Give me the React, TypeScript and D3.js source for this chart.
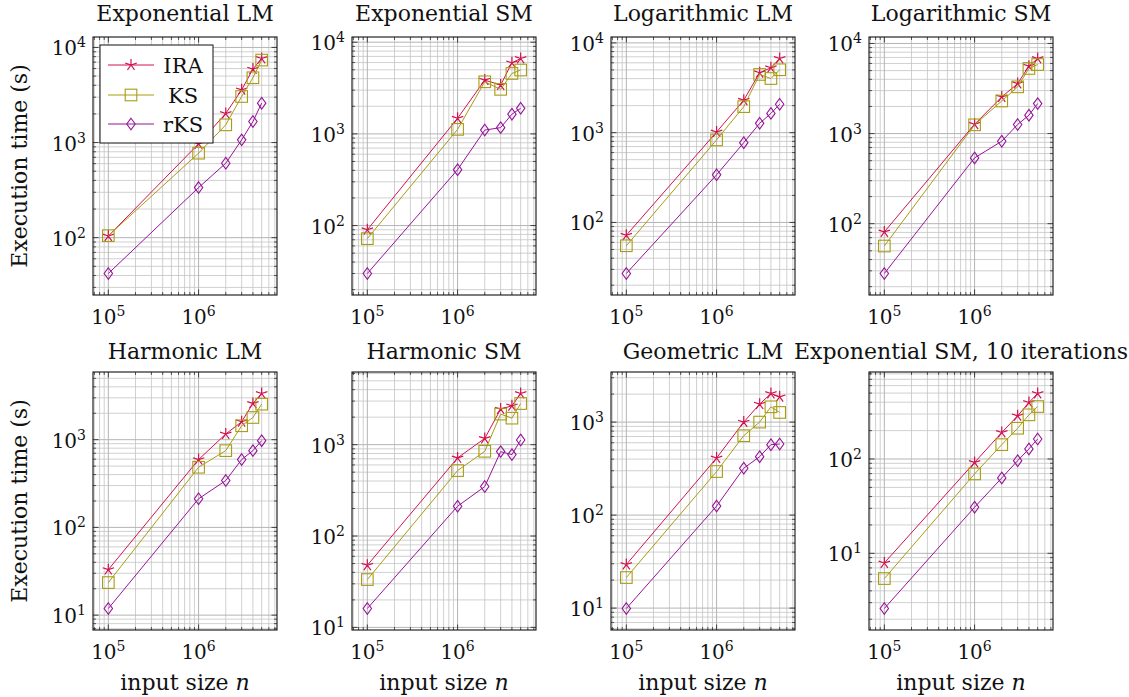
import React from 'react';
import * as d3 from 'd3';

// ---- data ----
const inputSizes = [1e5, 1e6, 2e6, 3e6, 4e6, 5e6];
const seriesNames = ['IRA', 'KS', 'rKS'];
const seriesColors = ['#d2124e', '#a89c10', '#97139a'];
const seriesMarks = ['star', 'square', 'diamond'];

const panelTitles = [
  'Exponential LM', 'Exponential SM', 'Logarithmic LM', 'Logarithmic SM',
  'Harmonic LM', 'Harmonic SM', 'Geometric LM', 'Exponential SM, 10 iterations',
];

const expLM_IRA = [104, 970, 2020, 3580, 5920, 7650];
const expLM_KS = [105, 773, 1535, 3050, 4800, 7360];
const expLM_rKS = [42, 336, 606, 1067, 1663, 2595];

const expSM_IRA = [90, 1480, 3860, 3410, 5960, 6640];
const expSM_KS = [72, 1120, 3700, 3060, 4560, 4970];
const expSM_rKS = [30, 407, 1100, 1170, 1640, 1900];

const logLM_IRA = [72, 1017, 2300, 4650, 5280, 6700];
const logLM_KS = [55, 830, 1950, 4450, 4010, 5020];
const logLM_rKS = [27, 339, 774, 1270, 1640, 2070];

const logSM_IRA = [81, 1270, 2550, 3590, 5600, 6810];
const logSM_KS = [56.5, 1250, 2300, 3300, 5280, 5840];
const logSM_rKS = [28, 537, 822, 1260, 1600, 2150];

const harLM_IRA = [33, 593, 1160, 1600, 2590, 3360];
const harLM_KS = [23.5, 485, 750, 1440, 1790, 2540];
const harLM_rKS = [11.9, 212, 342, 593, 750, 975];

const harSM_IRA = [47.9, 716, 1170, 2450, 2660, 3630];
const harSM_KS = [33.4, 520, 846, 2160, 1950, 2820];
const harSM_rKS = [16.1, 212, 348, 839, 778, 1125];

const geoLM_IRA = [29.4, 411, 1000, 1560, 2030, 1870];
const geoLM_KS = [21.3, 294, 714, 1000, 1460, 1270];
const geoLM_rKS = [9.9, 125, 319, 425, 572, 581];

const exp10_IRA = [7.9, 92, 191, 287, 397, 495];
const exp10_KS = [5.4, 69.5, 142, 212, 294, 360];
const exp10_rKS = [2.6, 30.8, 63, 96, 128, 163];

const panelSeries = [
  [expLM_IRA, expLM_KS, expLM_rKS],
  [expSM_IRA, expSM_KS, expSM_rKS],
  [logLM_IRA, logLM_KS, logLM_rKS],
  [logSM_IRA, logSM_KS, logSM_rKS],
  [harLM_IRA, harLM_KS, harLM_rKS],
  [harSM_IRA, harSM_KS, harSM_rKS],
  [geoLM_IRA, geoLM_KS, geoLM_rKS],
  [exp10_IRA, exp10_KS, exp10_rKS],
];

// ---- layout ----
const W = 1129;
const H = 697;
const colLefts = [93, 352, 611, 869];
const rowTops = [37, 372];
const titleGaps = [16, 13];
const PW = 184;
const PH = 258;
const FONT = "'DejaVu Serif', 'Liberation Serif', serif";
const GRID = '#c4c4c4';

function enlargedLogDomain(lo: number, hi: number): [number, number] {
  const a = Math.log10(lo);
  const b = Math.log10(hi);
  const e = (b - a) * 0.1;
  return [Math.pow(10, a - e), Math.pow(10, b + e)];
}

function Mark({ type, x, y, color }: { type: string; x: number; y: number; color: string }) {
  if (type === 'square') {
    const s = 5.8;
    return <rect x={x - s} y={y - s} width={2 * s} height={2 * s} fill="none" stroke={color} strokeWidth={1.1} />;
  }
  if (type === 'diamond') {
    const w = 4.2;
    const h = 5.8;
    return (
      <path d={`M${x},${y - h}L${x + w},${y}L${x},${y + h}L${x - w},${y}Z`} fill="none" stroke={color} strokeWidth={1.1} />
    );
  }
  const r = 6;
  const d = d3.range(5).map((i) => {
    const a = -Math.PI / 2 + (i * 2 * Math.PI) / 5;
    return `M${x},${y}L${x + r * Math.cos(a)},${y + r * Math.sin(a)}`;
  }).join('');
  return <path d={d} fill="none" stroke={color} strokeWidth={1.2} />;
}

function logTicks(domain: [number, number]) {
  const lo = Math.floor(Math.log10(domain[0]));
  const hi = Math.ceil(Math.log10(domain[1]));
  const major: number[] = [];
  const minor: number[] = [];
  for (let k = lo; k <= hi; k++) {
    const p = Math.pow(10, k);
    if (p >= domain[0] && p <= domain[1]) major.push(p);
    for (let m = 2; m <= 9; m++) {
      const v = m * p;
      if (v >= domain[0] && v <= domain[1]) minor.push(v);
    }
  }
  return { major, minor };
}

function Pow({ exp, x, y, anchor, size }: { exp: number; x: number; y: number; anchor: string; size: number }) {
  return (
    <text x={x} y={y} textAnchor={anchor as any} fontFamily={FONT} fontSize={size} fill="#111">
      10
      <tspan dy={-8} fontSize={size * 0.7}>{exp}</tspan>
    </text>
  );
}

function Panel({ idx }: { idx: number }) {
  const col = idx % 4;
  const row = Math.floor(idx / 4);
  const left = colLefts[col];
  const top = rowTops[row];
  const series = panelSeries[idx];
  const all = series.flat();
  const yDom = enlargedLogDomain(d3.min(all) as number, d3.max(all) as number);
  const xDom = enlargedLogDomain(inputSizes[0], inputSizes[inputSizes.length - 1]);
  const x = d3.scaleLog().domain(xDom).range([left, left + PW]);
  const y = d3.scaleLog().domain(yDom).range([top + PH, top]);
  const xt = logTicks(xDom);
  const yt = logTicks(yDom);
  const bottom = top + PH;
  const right = left + PW;
  const majLen = 5.5;
  const minLen = 3;
  const line = d3.line<number>().x((_, i) => x(inputSizes[i])).y((v) => y(v));

  return (
    <g>
      {/* grid */}
      {xt.minor.map((v, i) => (
        <line key={'gxm' + i} x1={x(v)} x2={x(v)} y1={top} y2={bottom} stroke={GRID} strokeWidth={0.8} />
      ))}
      {yt.minor.map((v, i) => (
        <line key={'gym' + i} x1={left} x2={right} y1={y(v)} y2={y(v)} stroke={GRID} strokeWidth={0.8} />
      ))}
      {xt.major.map((v, i) => (
        <line key={'gxM' + i} x1={x(v)} x2={x(v)} y1={top} y2={bottom} stroke="#b4b4b4" strokeWidth={1} />
      ))}
      {yt.major.map((v, i) => (
        <line key={'gyM' + i} x1={left} x2={right} y1={y(v)} y2={y(v)} stroke="#b4b4b4" strokeWidth={1} />
      ))}
      {/* ticks */}
      {xt.minor.map((v, i) => (
        <g key={'txm' + i} stroke="#333" strokeWidth={0.8}>
          <line x1={x(v)} x2={x(v)} y1={bottom} y2={bottom - minLen} />
          <line x1={x(v)} x2={x(v)} y1={top} y2={top + minLen} />
        </g>
      ))}
      {yt.minor.map((v, i) => (
        <g key={'tym' + i} stroke="#333" strokeWidth={0.8}>
          <line x1={left} x2={left + minLen} y1={y(v)} y2={y(v)} />
          <line x1={right} x2={right - minLen} y1={y(v)} y2={y(v)} />
        </g>
      ))}
      {xt.major.map((v, i) => (
        <g key={'txM' + i} stroke="#333" strokeWidth={0.9}>
          <line x1={x(v)} x2={x(v)} y1={bottom} y2={bottom - majLen} />
          <line x1={x(v)} x2={x(v)} y1={top} y2={top + majLen} />
        </g>
      ))}
      {yt.major.map((v, i) => (
        <g key={'tyM' + i} stroke="#333" strokeWidth={0.9}>
          <line x1={left} x2={left + majLen} y1={y(v)} y2={y(v)} />
          <line x1={right} x2={right - majLen} y1={y(v)} y2={y(v)} />
        </g>
      ))}
      {/* box */}
      <rect x={left} y={top} width={PW} height={PH} fill="none" stroke="#111" strokeWidth={1.1} />
      {/* data */}
      {series.map((vals, s) => (
        <g key={'s' + s}>
          <path d={line(vals) as string} fill="none" stroke={seriesColors[s]} strokeWidth={1} />
          {vals.map((v, i) => (
            <Mark key={i} type={seriesMarks[s]} x={x(inputSizes[i])} y={y(v)} color={seriesColors[s]} />
          ))}
        </g>
      ))}
      {/* tick labels */}
      {xt.major.map((v, i) => (
        <Pow key={'lx' + i} exp={Math.round(Math.log10(v))} x={x(v)} y={bottom + 29} anchor="middle" size={20} />
      ))}
      {yt.major.map((v, i) => (
        <Pow key={'ly' + i} exp={Math.round(Math.log10(v))} x={left - 7} y={y(v) + 8} anchor="end" size={20} />
      ))}
      {/* title */}
      <text x={left + PW / 2} y={top - titleGaps[row]} textAnchor="middle" fontFamily={FONT} fontSize={22} fill="#111">
        {panelTitles[idx]}
      </text>
      {row === 1 && (
        <text x={left + PW / 2} y={bottom + 60} textAnchor="middle" fontFamily={FONT} fontSize={22} fill="#111">
          input size <tspan fontStyle="italic">n</tspan>
        </text>
      )}
      {col === 0 && (
        <text
          transform={`translate(${left - 66},${top + PH / 2}) rotate(-90)`}
          textAnchor="middle"
          fontFamily={FONT}
          fontSize={22}
          fill="#111"
        >
          Execution time (s)
        </text>
      )}
    </g>
  );
}

function Legend() {
  const lx = 100;
  const ly = 45;
  const lw = 113;
  const lh = 98;
  const rows = [65, 95, 124];
  return (
    <g>
      <rect x={lx} y={ly} width={lw} height={lh} fill="#fff" stroke="#111" strokeWidth={1} />
      {seriesNames.map((name, i) => (
        <g key={name}>
          <line x1={108} x2={154} y1={rows[i]} y2={rows[i]} stroke={seriesColors[i]} strokeWidth={1} />
          <Mark type={seriesMarks[i]} x={131} y={rows[i]} color={seriesColors[i]} />
          <text x={183} y={rows[i] + 8} textAnchor="middle" fontFamily={FONT} fontSize={21} fill="#111">
            {name}
          </text>
        </g>
      ))}
    </g>
  );
}

export default function App() {
  return (
    <svg
      width={W}
      height={H}
      viewBox={`0 0 ${W} ${H}`}
      style={{ position: 'absolute', left: 0, top: 0, background: '#fff' }}
    >
      <rect x={0} y={0} width={W} height={H} fill="#fff" />
      {panelTitles.map((_, i) => (
        <Panel key={i} idx={i} />
      ))}
      <Legend />
    </svg>
  );
}
